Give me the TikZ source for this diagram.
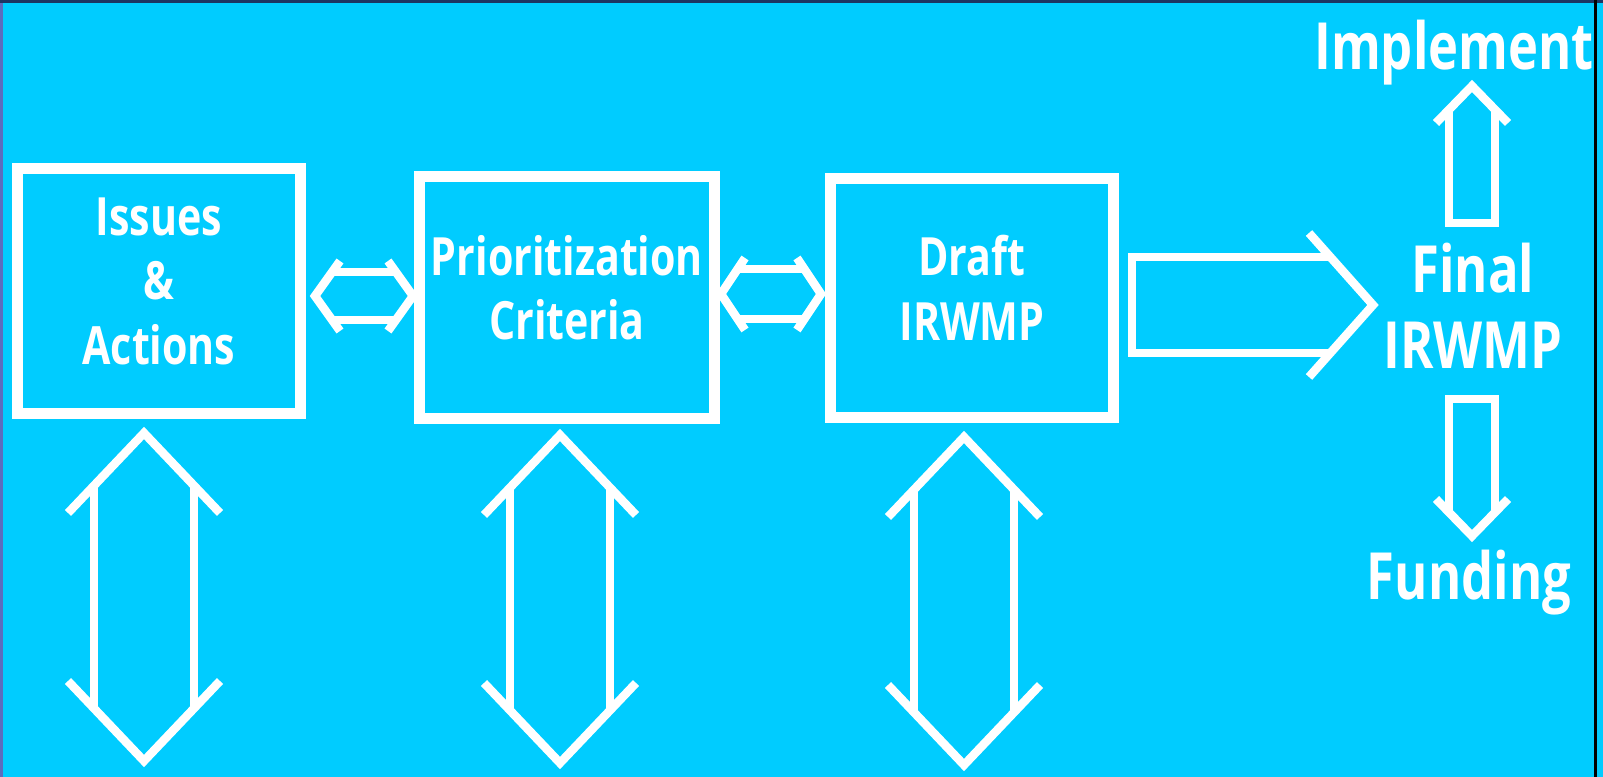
\documentclass[tikz,border=0pt]{standalone}
\usepackage{fontspec}
\setmainfont{Open Sans}[FakeStretch=0.78]
\usetikzlibrary{positioning}

\definecolor{skycyan}{HTML}{00CCFF}
\definecolor{edgeblue}{HTML}{5B6DBE}
\definecolor{edgenavy}{HTML}{1C3563}

\newcommand\stagefont{\fontsize{15pt}{18.35pt}\selectfont\bfseries}
\newcommand\sidefont{\fontsize{18.5pt}{21.6pt}\selectfont\bfseries}

\tikzset{
  stage/.style={draw=white, line width=0.11cm, align=center, text=white, font=\stagefont, text depth=0.2cm},
  sidetext/.style={text=white, align=center, font=\sidefont, inner sep=0pt},
  arrowpen/.style={draw=white, line width=0.085cm},
  % length, shaft half width, head half width, head length
  pics/dblarrow/.style n args={4}{code={
    \draw[arrowpen] (#4,-#3) -- (0,0) -- (#4,#3);
    \draw[arrowpen] (#1-#4,-#3) -- (#1,0) -- (#1-#4,#3);
    \draw[arrowpen] (#4*#2/#3,-#2) -- (#1-#4*#2/#3,-#2);
    \draw[arrowpen] (#4*#2/#3,#2) -- (#1-#4*#2/#3,#2);
  }},
  pics/onehead/.style n args={4}{code={
    \draw[arrowpen] (#1-#4,-#3) -- (#1,0) -- (#1-#4,#3);
    \draw[arrowpen] (#1-#4*#2/#3,-#2) -- (0,-#2) -- (0,#2) -- (#1-#4*#2/#3,#2);
  }}
}

\begin{document}
\begin{tikzpicture}[x=0.01cm, y=-0.01cm]
% Background
\useasboundingbox (0,0) rectangle (1603,777);
\fill[skycyan] (0,0) rectangle (1603,777);
\fill[edgeblue] (0,0) rectangle (3,777);
\fill[edgenavy] (0,0) rectangle (1603,3);
\fill[black] (1594,0) rectangle (1597,777);

% Planning stages
\node[stage, minimum width=2.835cm, minimum height=2.44cm] (issues) at (159,291) {Issues\\\&\\Actions};
\node[stage, minimum width=2.84cm, minimum height=2.41cm] (prio) at (567,297.5) {Prioritization\\Criteria};
\node[stage, minimum width=2.82cm, minimum height=2.38cm] (draft) at (972,298) {Draft\\IRWMP};

% Arrow tips
\coordinate (h1) at (315,296);
\coordinate (h2) at (721,294);
\coordinate (v1) at (144,433);
\coordinate (v2) at (560,435);
\coordinate (v3) at (964,437);

% Exchange between stages
\pic at (h1) {dblarrow={98}{24}{35}{25}};
\pic at (h2) {dblarrow={100}{25}{36}{24}};

% Exchange below each stage
\pic[rotate=-90] at (v1) {dblarrow={328}{50}{76}{80}};
\pic[rotate=-90] at (v2) {dblarrow={328}{50}{76}{80}};
\pic[rotate=-90] at (v3) {dblarrow={328}{50}{76}{80}};

% Draft to final
\pic at (1132,305) {onehead={241}{48}{72}{64}};

% Final plan and its outcomes
\node[sidetext] (final) at (1473,306) {Final\\IRWMP};
\node[sidetext, anchor=base] (implement) at (1454,70) {Implement};
\node[sidetext, anchor=base] (funding) at (1469,600) {Funding};
\pic[rotate=90] at (1472,223) {onehead={137}{23}{36}{37}};
\pic[rotate=-90] at (1472,399) {onehead={137}{23}{36}{37}};

\end{tikzpicture}
\end{document}
